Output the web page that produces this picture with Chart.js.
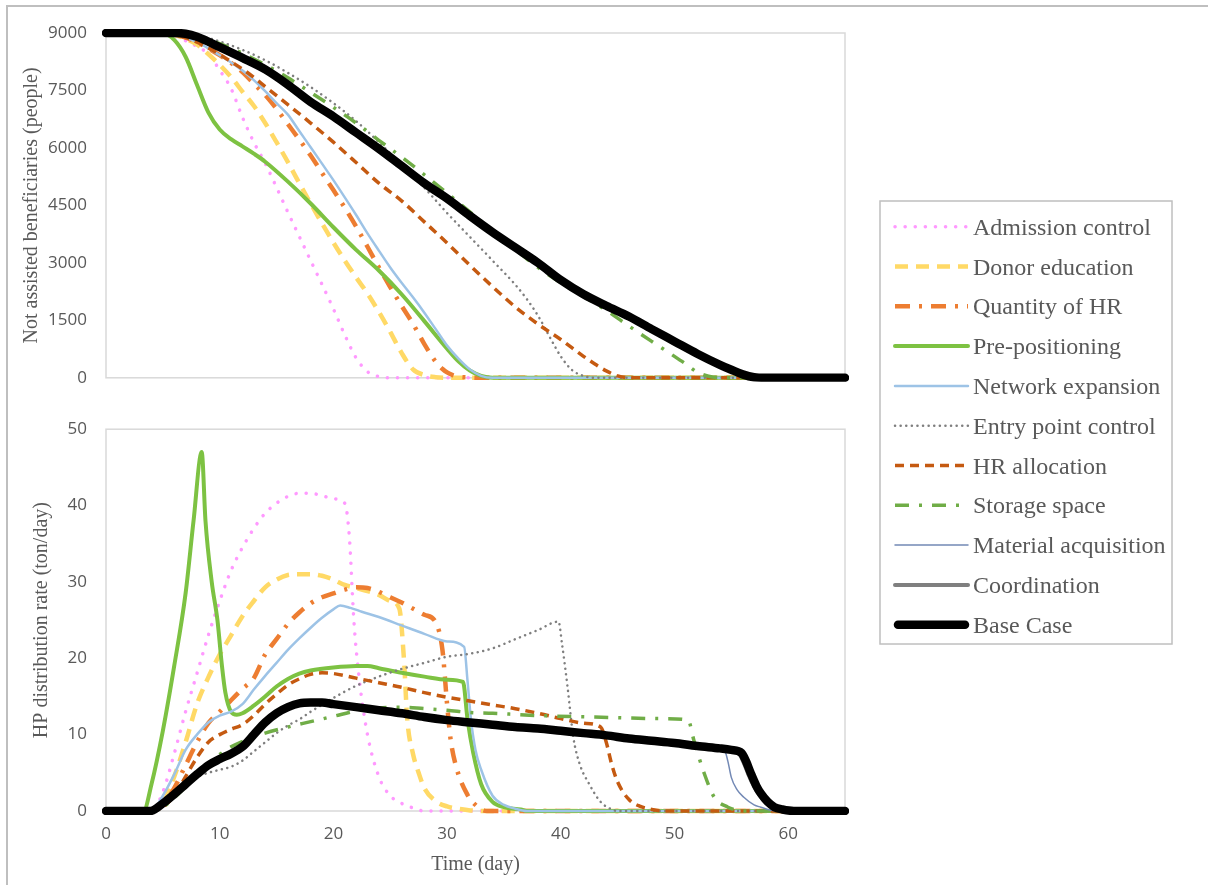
<!DOCTYPE html>
<html>
<head>
<meta charset="utf-8">
<title>Not assisted beneficiaries and HP distribution rate</title>
<script src="https://cdn.jsdelivr.net/npm/chart.js@4.4.1/dist/chart.umd.min.js"></script>
<style>
    body { margin: 0; background: #fff; }
    #page { position: relative; width: 1208px; height: 885px; overflow: hidden; background: #fff; }
    #frame { position: absolute; left: 6px; top: 5px; right: 0; bottom: 0; border-top: 2px solid #BFBFBF; border-left: 2px solid #BFBFBF; }
    #topChart { position: absolute; left: 0; top: 0; }
    #bottomChart { position: absolute; left: 0; top: 400px; }
    #legend { position: absolute; left: 0; top: 0; }
</style>
</head>
<body>
<div id="page">
    <div id="frame"></div>
    <canvas id="topChart" width="860" height="407"></canvas>
    <canvas id="bottomChart" width="860" height="485"></canvas>
    <svg id="legend" width="1208" height="885"></svg>
</div>
<script>
//-------------
//- Series names (legend order) -
//--------------
var seriesNames = ['Admission control', 'Donor education', 'Quantity of HR', 'Pre-positioning', 'Network expansion',
    'Entry point control', 'HR allocation', 'Storage space', 'Material acquisition', 'Coordination', 'Base Case'];

//-------------
//- Top panel: not assisted beneficiaries (people) -
//--------------
var admissionDaysTop = [0, 5, 6, 7, 8, 9, 10, 11, 12, 13, 14, 16, 18, 20, 21, 22, 23, 24, 25, 65];
var admissionTop = [9000, 8990, 8930, 8800, 8650, 8450, 8030, 7550, 6800, 6150, 5600, 4320, 3060, 1800, 1120, 520, 160, 30, 0, 0];

var donorDaysTop = [0, 5, 6, 7, 8, 9, 10, 11, 12, 13, 14, 15, 16, 17, 18, 19, 20, 21, 22, 23, 24, 25, 26, 27, 28, 29, 30, 65];
var donorTop = [9000, 8990, 8950, 8850, 8700, 8450, 8170, 7850, 7470, 7100, 6650, 6150, 5630, 5080, 4550, 4030, 3530, 3060, 2620, 2200, 1720, 1200, 650, 220, 70, 15, 0, 0];

var quantityDaysTop = [0, 5, 6, 7, 8, 9, 10, 11, 12, 13, 14, 15, 16, 17, 18, 19, 20, 21, 22, 23, 24, 25, 26, 27, 28, 29, 29.6, 30, 30.5, 31, 32, 33, 65];
var quantityTop = [9000, 8995, 8960, 8880, 8760, 8600, 8420, 8220, 7980, 7680, 7380, 7020, 6620, 6220, 5800, 5350, 4900, 4440, 3950, 3420, 2880, 2370, 1880, 1410, 880, 420, 230, 140, 70, 30, 8, 0, 0];

var prepositionDaysTop = [0, 4, 5, 6, 7, 8, 9, 10, 11, 12, 13, 14, 16, 18, 20, 22, 24, 26, 28, 30, 31, 32, 33, 34, 65];
var prepositionTop = [9000, 9000, 8990, 8820, 8380, 7650, 6930, 6480, 6230, 6040, 5850, 5640, 5120, 4550, 3930, 3340, 2800, 2180, 1480, 760, 430, 190, 50, 0, 0];

var networkDaysTop = [0, 5, 6, 7, 8, 9, 10, 11, 12, 13, 14, 15, 16, 17, 18, 19, 20, 21, 22, 23, 24, 25, 26, 27, 28, 29, 30, 31, 32, 33, 34, 65];
var networkTop = [9000, 8995, 8960, 8880, 8760, 8600, 8420, 8230, 8020, 7770, 7480, 7170, 6870, 6440, 6020, 5590, 5160, 4710, 4250, 3770, 3320, 2880, 2480, 2100, 1700, 1270, 840, 500, 220, 50, 0, 0];

var entryDaysTop = [0, 6, 7, 8, 9, 10, 12, 14, 16, 18, 20, 22, 24, 26, 28, 30, 32, 34, 36, 37, 38, 39, 40, 41, 42, 43, 65];
var entryTop = [9000, 9000, 8990, 8940, 8870, 8780, 8560, 8290, 7960, 7590, 7170, 6700, 6150, 5560, 4960, 4300, 3680, 3060, 2430, 2060, 1620, 1080, 560, 200, 50, 0, 0];

var allocationDaysTop = [0, 5, 6, 7, 8, 9, 10, 11, 12, 13, 14, 16, 18, 20, 22, 24, 26, 28, 30, 32, 34, 36, 38, 40, 42, 43, 44, 45, 46, 65];
var allocationTop = [9000, 8995, 8960, 8880, 8760, 8610, 8440, 8250, 8060, 7840, 7600, 7130, 6650, 6150, 5620, 5080, 4620, 4070, 3520, 2940, 2380, 1850, 1400, 1000, 560, 360, 180, 50, 0, 0];

var storageDaysTop = [0, 6, 7, 8, 10, 12, 14, 16, 18, 20, 22, 24, 26, 28, 30, 32, 34, 36, 38, 40, 42, 44, 46, 48, 50, 51, 52, 53, 54, 55, 65];
var storageTop = [9000, 9000, 8990, 8930, 8720, 8470, 8170, 7830, 7450, 7060, 6650, 6200, 5760, 5300, 4820, 4330, 3840, 3350, 2880, 2480, 2120, 1760, 1350, 950, 560, 360, 150, 40, 5, 0, 0];

var materialDaysTop = [0, 6, 7, 8, 10, 12, 14, 16, 18, 20, 22, 24, 26, 28, 30, 32, 34, 36, 38, 40, 42, 44, 46, 48, 50, 52, 54, 55, 56, 57, 65];
var materialTop = [9000, 9000, 8980, 8900, 8630, 8350, 8050, 7650, 7200, 6820, 6400, 5980, 5530, 5080, 4680, 4230, 3800, 3400, 3000, 2550, 2180, 1880, 1600, 1270, 950, 630, 330, 190, 60, 0, 0];

var coordinationDaysTop = [0, 6, 7, 8, 10, 12, 14, 16, 18, 20, 22, 24, 26, 28, 30, 32, 34, 36, 38, 40, 42, 44, 46, 48, 50, 52, 54, 55, 56, 57, 58, 65];
var coordinationTop = [9000, 9000, 8980, 8900, 8630, 8350, 8050, 7650, 7200, 6820, 6400, 5980, 5530, 5080, 4680, 4230, 3800, 3400, 3000, 2550, 2180, 1880, 1600, 1270, 950, 630, 340, 200, 80, 10, 0, 0];

var baseDaysTop = [0, 6, 7, 8, 10, 12, 14, 16, 18, 20, 22, 24, 26, 28, 30, 32, 34, 36, 38, 40, 42, 44, 46, 48, 50, 52, 54, 55, 56, 57, 58, 65];
var baseTop = [9000, 9000, 8980, 8900, 8630, 8350, 8050, 7650, 7200, 6820, 6400, 5980, 5530, 5080, 4680, 4230, 3800, 3400, 3000, 2550, 2180, 1880, 1600, 1270, 950, 630, 340, 210, 90, 15, 0, 0];

//-------------
//- Bottom panel: HP distribution rate (ton/day) -
//--------------
var admissionDaysRate = [0, 4, 5, 6, 7, 8, 9, 10, 11, 12, 13, 14, 15, 16, 17, 18, 19, 20, 21, 21.4, 21.8, 22.3, 23, 24, 25, 26, 27, 28, 65];
var admissionRate = [0, 0, 2.5, 7.5, 13, 18, 23, 27.5, 31.5, 34.5, 37, 39, 40.3, 41.2, 41.6, 41.6, 41.3, 40.9, 40.3, 36, 25, 17, 10, 4.5, 2, 1, 0.4, 0, 0];

var donorDaysRate = [0, 4, 5, 6, 7, 8, 9, 10, 11, 12, 13, 14, 15, 16, 17, 18, 19, 20, 21, 22, 23, 24, 25, 25.8, 26.2, 26.5, 27, 27.5, 28, 29, 30, 31, 33, 65];
var donorRate = [0, 0, 1, 4.5, 9, 14, 17.5, 20.5, 23, 25.5, 27.5, 29.3, 30.3, 30.9, 31, 31, 30.8, 30.3, 29.6, 29.2, 28.8, 28.3, 27.5, 26.5, 20, 12, 7.5, 5, 3, 1.3, 0.6, 0.3, 0, 0];

var quantityDaysRate = [0, 4, 5, 6, 7, 8, 9, 10, 11, 12, 13, 14, 15, 16, 17, 18, 19, 20, 21, 22, 23, 24, 25, 26, 27, 28, 29, 29.6, 30, 30.3, 30.8, 31.8, 32.5, 33.5, 65];
var quantityRate = [0, 0, 0.8, 3, 6, 9, 11.5, 13, 14.5, 16, 17.4, 20.5, 22.5, 24.5, 26, 27.2, 28, 28.5, 29, 29.3, 29.2, 28.7, 28, 27.3, 26.5, 25.7, 24.7, 21, 14, 9.5, 5.8, 2.1, 0.8, 0, 0];

var prepositionDaysRate = [0, 3.3, 4, 5, 6, 7, 7.7, 8.42, 8.75, 9.3, 9.8, 10.2, 10.5, 11, 11.5, 12, 13, 14, 15, 16, 17, 18, 20, 22, 23, 24, 26, 28, 30, 31.4, 31.8, 32.3, 33, 34, 35, 36.5, 37, 65];
var prepositionRate = [0, 0, 3.5, 10.5, 19, 28.5, 38, 47, 38, 30, 25, 19, 15.5, 13, 12.6, 12.8, 13.8, 15, 16.3, 17.3, 18, 18.4, 18.8, 19, 19, 18.7, 18.1, 17.6, 17.2, 16.9, 12, 7.6, 3.5, 1.2, 0.5, 0.2, 0, 0];

var networkDaysRate = [0, 4, 5, 6, 7, 8, 9, 10, 11, 12, 13, 14, 15, 16, 17, 18, 19, 20, 20.6, 21.5, 22.5, 24, 26, 28, 30, 31.5, 31.8, 32.1, 32.5, 33, 34, 35, 36, 37, 65];
var networkRate = [0, 0, 2, 4.8, 8, 10, 11.6, 12.5, 13, 14, 15.9, 17.7, 19.4, 21.1, 22.6, 24, 25.3, 26.4, 26.9, 26.6, 26.1, 25.4, 24.3, 23.2, 22.2, 21.5, 17, 12, 8, 5.4, 2, 0.8, 0.3, 0, 0];

var entryDaysRate = [0, 4, 5, 6, 7, 8, 9, 10, 11, 12, 13, 14, 15, 16, 17, 18, 20, 22, 24, 26, 28, 30, 32, 34, 36, 38, 39.8, 40.1, 40.6, 41.1, 41.7, 42.4, 43.5, 44.5, 45, 65];
var entryRate = [0, 0, 1, 2.3, 3.6, 4.5, 5, 5.4, 5.8, 6.6, 7.8, 9, 10.2, 11.2, 12, 13, 14.8, 16.4, 17.6, 18.6, 19.4, 20.2, 20.6, 21.3, 22.5, 23.7, 24.8, 22, 16.2, 9.7, 6, 3.8, 1.2, 0.2, 0, 0];

var allocationDaysRate = [0, 4, 5, 6, 7, 8, 9, 10, 11, 12, 13, 14, 15, 16, 17, 18, 19, 20, 22, 24, 26, 28, 30, 32, 34, 36, 38, 40, 42, 43.5, 44, 44.5, 45, 46, 47, 48, 49, 65];
var allocationRate = [0, 0, 0.5, 2, 4.5, 7, 9, 10, 10.7, 11.3, 12.5, 14, 15.3, 16.5, 17.3, 17.9, 18.1, 18, 17.4, 16.8, 16.2, 15.5, 14.9, 14.4, 13.9, 13.4, 12.8, 12.1, 11.5, 11, 9, 6, 3.8, 1.5, 0.6, 0.2, 0, 0];

var storageDaysRate = [0, 4, 5, 6, 7, 8, 9, 10, 11, 12, 13, 14, 16, 18, 20, 22, 24, 26, 28, 30, 32, 34, 38, 43, 48.8, 51.2, 51.7, 52.6, 53.5, 54.7, 55.5, 56, 65];
var storageRate = [0, 0, 0.5, 1.7, 3.2, 4.8, 6.2, 7.4, 8.4, 9.1, 9.7, 10.2, 11, 11.7, 12.4, 13.1, 13.5, 13.6, 13.4, 13.2, 12.9, 12.8, 12.5, 12.3, 12.1, 11.9, 9.3, 5, 1.8, 0.5, 0.1, 0, 0];

var materialDaysRate = [0, 3.9, 5, 6, 7, 8, 9, 10, 11, 12, 13, 14, 15, 16, 17, 18, 19, 20, 22, 24, 26, 28, 30, 32, 34, 36, 38, 40, 42, 44, 46, 48, 50, 52, 54, 54.4, 54.7, 55, 55.5, 56.1, 57, 57.6, 58.5, 59, 65];
var materialRate = [0, 0, 1, 2.2, 3.5, 4.8, 6, 6.8, 7.5, 8.4, 10, 11.6, 12.8, 13.6, 14.1, 14.2, 14.2, 14, 13.6, 13.2, 12.8, 12.3, 11.9, 11.6, 11.3, 11, 10.8, 10.5, 10.2, 9.9, 9.5, 9.2, 8.9, 8.5, 8.2, 8, 6.5, 4.4, 2.8, 1.8, 0.8, 0.5, 0.1, 0, 0];

var coordinationDaysRate = [0, 3.9, 5, 6, 7, 8, 9, 10, 11, 12, 13, 14, 15, 16, 17, 18, 19, 20, 22, 24, 26, 28, 30, 32, 34, 36, 38, 40, 42, 44, 46, 48, 50, 52, 54, 55, 55.7, 56.1, 56.5, 57, 57.4, 58, 58.6, 59.3, 60.3, 65];
var coordinationRate = [0, 0, 1, 2.2, 3.5, 4.8, 6, 6.8, 7.5, 8.4, 10, 11.6, 12.8, 13.6, 14.1, 14.2, 14.2, 14, 13.6, 13.2, 12.8, 12.3, 11.9, 11.6, 11.3, 11, 10.8, 10.5, 10.2, 9.9, 9.5, 9.2, 8.9, 8.5, 8.2, 8, 7.5, 6.3, 4.8, 3.2, 2.2, 1.1, 0.5, 0.2, 0, 0];

var baseDaysRate = [0, 3.9, 5, 6, 7, 8, 9, 10, 11, 12, 13, 14, 15, 16, 17, 18, 19, 20, 22, 24, 26, 28, 30, 32, 34, 36, 38, 40, 42, 44, 46, 48, 50, 52, 54, 55, 55.9, 56.3, 56.7, 57.2, 57.6, 58.2, 58.8, 59.5, 60.5, 65];
var baseRate = [0, 0, 1, 2.2, 3.5, 4.8, 6, 6.8, 7.5, 8.4, 10, 11.6, 12.8, 13.6, 14.1, 14.2, 14.2, 14, 13.6, 13.2, 12.8, 12.3, 11.9, 11.6, 11.3, 11, 10.8, 10.5, 10.2, 9.9, 9.5, 9.2, 8.9, 8.5, 8.2, 8, 7.6, 6.5, 5, 3.3, 2.3, 1.2, 0.5, 0.2, 0, 0];

// tick values
var xTicks = [0, 10, 20, 30, 40, 50, 60];
var topTicks = [0, 1500, 3000, 4500, 6000, 7500, 9000];
var bottomTicks = [0, 10, 20, 30, 40, 50];

var topSeries = [
    [admissionDaysTop, admissionTop], [donorDaysTop, donorTop], [quantityDaysTop, quantityTop],
    [prepositionDaysTop, prepositionTop], [networkDaysTop, networkTop], [entryDaysTop, entryTop],
    [allocationDaysTop, allocationTop], [storageDaysTop, storageTop], [materialDaysTop, materialTop],
    [coordinationDaysTop, coordinationTop], [baseDaysTop, baseTop]
];
var rateSeries = [
    [admissionDaysRate, admissionRate], [donorDaysRate, donorRate], [quantityDaysRate, quantityRate],
    [prepositionDaysRate, prepositionRate], [networkDaysRate, networkRate], [entryDaysRate, entryRate],
    [allocationDaysRate, allocationRate], [storageDaysRate, storageRate], [materialDaysRate, materialRate],
    [coordinationDaysRate, coordinationRate], [baseDaysRate, baseRate]
];

//-------------
//- Line styles -
//--------------
var lineStyles = [
    { color: '#FF99FF', width: 3.5, dash: [0.1, 10], cap: 'round' },
    { color: '#FFD966', width: 4.5, dash: [13, 8], cap: 'butt' },
    { color: '#ED7D31', width: 4.5, dash: [15, 9, 3, 9], cap: 'butt' },
    { color: '#7DC242', width: 4, dash: [], cap: 'round' },
    { color: '#9DC3E6', width: 2.5, dash: [], cap: 'round' },
    { color: '#7F7F7F', width: 2.5, dash: [0.1, 5.5], cap: 'round' },
    { color: '#C55A11', width: 3.5, dash: [9, 6], cap: 'butt' },
    { color: '#70AD47', width: 3.5, dash: [14, 10, 3, 10], cap: 'butt' },
    { color: '#7389B5', width: 1.5, dash: [], cap: 'round' },
    { color: '#7F7F7F', width: 4, dash: [], cap: 'round' },
    { color: '#000000', width: 8.5, dash: [], cap: 'round' }
];

var textColor = '#595959';
var tickFont = { family: 'Open Sans', size: 17 };
var titleFont = { family: 'Liberation Serif', size: 20 };

function toPoints(days, values) {
    var points = [];
    for (var i = 0; i < days.length; i++) {
        points.push({ x: days[i], y: values[i] });
    }
    return points;
}

function buildDatasets(series) {
    var sets = [];
    for (var i = 0; i < series.length; i++) {
        var st = lineStyles[i];
        sets.push({
            label: seriesNames[i],
            data: toPoints(series[i][0], series[i][1]),
            borderColor: st.color,
            backgroundColor: st.color,
            borderWidth: st.width,
            borderDash: st.dash,
            borderCapStyle: st.cap,
            borderJoinStyle: 'round',
            pointRadius: 0,
            fill: false,
            cubicInterpolationMode: 'monotone',
            clip: 4,
            // Base Case last in the list, drawn on top
            order: series.length - 1 - i
        });
    }
    return sets;
}

// light grey frame round each plot area
var plotFrame = {
    id: 'plotFrame',
    beforeDatasetsDraw: function (chart) {
        var a = chart.chartArea;
        var ctx = chart.ctx;
        ctx.save();
        ctx.strokeStyle = '#D9D9D9';
        ctx.lineWidth = 1.5;
        ctx.strokeRect(a.left, a.top, a.right - a.left, a.bottom - a.top);
        ctx.restore();
    }
};

function yAxis(max, ticks, title, titlePad) {
    return {
        min: 0,
        max: max,
        afterBuildTicks: function (scale) {
            scale.ticks = ticks.map(function (v) { return { value: v }; });
        },
        ticks: { padding: 19, color: textColor, font: tickFont, callback: function (v) { return String(v); } },
        grid: { display: false, drawTicks: false },
        border: { display: false },
        title: { display: true, text: title, color: textColor, font: titleFont, padding: { top: titlePad, bottom: 0 } },
        afterFit: function (scale) { scale.width = 106; }
    };
}

Chart.defaults.font.family = 'Open Sans';

new Chart(document.getElementById('topChart'), {
    type: 'line',
    data: { datasets: buildDatasets(topSeries) },
    options: {
        responsive: false,
        animation: false,
        layout: { padding: { top: 33, right: 15, bottom: 6, left: 0 } },
        plugins: { legend: { display: false }, tooltip: { enabled: false } },
        scales: {
            x: { type: 'linear', display: false, min: 0, max: 65 },
            y: yAxis(9000, topTicks, 'Not assisted beneficiaries (people)', 20)
        }
    },
    plugins: [plotFrame]
});

new Chart(document.getElementById('bottomChart'), {
    type: 'line',
    data: { datasets: buildDatasets(rateSeries) },
    options: {
        responsive: false,
        animation: false,
        layout: { padding: { top: 28, right: 15, bottom: 0, left: 0 } },
        plugins: { legend: { display: false }, tooltip: { enabled: false } },
        scales: {
            x: {
                type: 'linear',
                min: 0,
                max: 65,
                afterBuildTicks: function (scale) {
                    scale.ticks = xTicks.map(function (v) { return { value: v }; });
                },
                ticks: { padding: 13, color: textColor, font: tickFont, maxRotation: 0, callback: function (v) { return String(v); } },
                grid: { display: false, drawTicks: false },
                border: { display: false },
                title: { display: true, text: 'Time (day)', color: textColor, font: titleFont, padding: { top: 0, bottom: 8 } },
                afterFit: function (scale) { scale.height = 74; }
            },
            y: yAxis(50, bottomTicks, 'HP distribution rate (ton/day)', 30)
        }
    },
    plugins: [plotFrame]
});

//-------------
//- Legend (right side box) -
//--------------
function drawLegend() {
    var ns = 'http://www.w3.org/2000/svg';
    var svg = document.getElementById('legend');
    var box = document.createElementNS(ns, 'rect');
    box.setAttribute('x', 880);
    box.setAttribute('y', 201);
    box.setAttribute('width', 292);
    box.setAttribute('height', 443);
    box.setAttribute('fill', 'none');
    box.setAttribute('stroke', '#BFBFBF');
    box.setAttribute('stroke-width', 1.5);
    svg.appendChild(box);

    for (var i = 0; i < seriesNames.length; i++) {
        var st = lineStyles[i];
        var cy = 226.7 + 39.8 * i;
        var line = document.createElementNS(ns, 'line');
        var inset = st.width > 5 ? 3 : 0;
        line.setAttribute('x1', 895 + inset);
        line.setAttribute('x2', 968 - inset);
        line.setAttribute('y1', cy);
        line.setAttribute('y2', cy);
        line.setAttribute('stroke', st.color);
        line.setAttribute('stroke-width', st.width);
        line.setAttribute('stroke-linecap', st.cap);
        if (st.dash.length) line.setAttribute('stroke-dasharray', st.dash.join(' '));
        svg.appendChild(line);

        var text = document.createElementNS(ns, 'text');
        text.setAttribute('x', 973);
        text.setAttribute('y', cy);
        text.setAttribute('dominant-baseline', 'central');
        text.setAttribute('font-family', 'Liberation Serif');
        text.setAttribute('font-size', 24);
        text.setAttribute('fill', textColor);
        text.textContent = seriesNames[i];
        svg.appendChild(text);
    }
}

drawLegend();
</script>
</body>
</html>
